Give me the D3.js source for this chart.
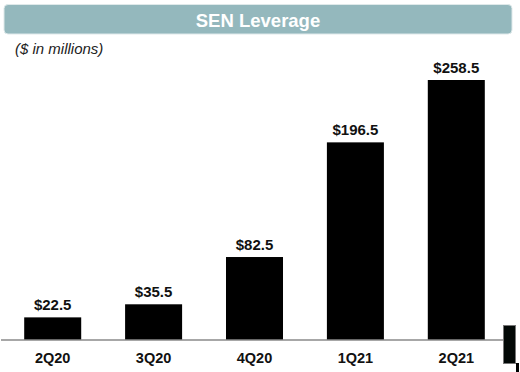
<!DOCTYPE html>
<html>
<head>
<meta charset="utf-8">
<script src="https://cdn.jsdelivr.net/npm/d3@7"></script>
<style>
  body { margin: 0; background: #fff; }
  svg { display: block; font-family: "Liberation Sans", Arial, sans-serif; }
</style>
</head>
<body>
<div id="chart"></div>
<script>
const quarters = ["2Q20", "3Q20", "4Q20", "1Q21", "2Q21"];
const leverage = [22.5, 35.5, 82.5, 196.5, 258.5];
const valueLabels = ["$22.5", "$35.5", "$82.5", "$196.5", "$258.5"];

const width = 520;
const height = 372;
const baseline = 340;

const svg = d3.select('#chart')
    .append('svg')
    .attr('width', width)
    .attr('height', height);

// header bar
svg.append('rect')
    .attr('x', 4)
    .attr('y', 4.5)
    .attr('width', 508)
    .attr('height', 29.5)
    .attr('rx', 4)
    .attr('fill', '#94b8bd')
    .attr('stroke', '#dfe9ea')
    .attr('stroke-width', 1);

svg.append('text')
    .attr('x', 258)
    .attr('y', 26.5)
    .attr('text-anchor', 'middle')
    .attr('fill', '#fff')
    .attr('font-weight', 'bold')
    .attr('font-size', 18.5)
    .text("SEN Leverage");

svg.append('text')
    .attr('x', 15)
    .attr('y', 54)
    .attr('fill', '#222')
    .attr('font-style', 'italic')
    .attr('font-size', 15)
    .text("($ in millions)");

// scales
const xScale = d3.scaleBand()
    .domain(quarters)
    .range([2, 507])
    .paddingInner(0.435)
    .paddingOuter(0.22);

const yScale = d3.scaleLinear()
    .domain([0, 258.5])
    .range([baseline, 80]);

// bars
svg.selectAll('rect.bar')
    .data(quarters)
    .enter()
    .append('rect')
    .attr('class', 'bar')
    .attr('x', d => xScale(d))
    .attr('y', (d, i) => yScale(leverage[i]))
    .attr('width', xScale.bandwidth())
    .attr('height', (d, i) => baseline - yScale(leverage[i]))
    .attr('fill', '#000');

svg.selectAll('text.val')
    .data(quarters)
    .enter()
    .append('text')
    .attr('class', 'val')
    .attr('x', d => xScale(d) + xScale.bandwidth() / 2)
    .attr('y', (d, i) => yScale(leverage[i]) - 7)
    .attr('text-anchor', 'middle')
    .attr('font-weight', 'bold')
    .attr('font-size', 15)
    .attr('fill', '#111')
    .text((d, i) => valueLabels[i]);

// axis
const xAxis = d3.axisBottom(xScale).tickSize(0).tickPadding(13);

const axisG = svg.append('g')
    .attr('transform', `translate(0, ${baseline})`)
    .call(xAxis);

axisG.select('.domain')
    .attr('d', 'M1,0H507')
    .attr('stroke', '#8a8a8a')
    .attr('stroke-width', 1.5);

axisG.selectAll('text')
    .attr('font-family', '"Liberation Sans", Arial, sans-serif')
    .attr('font-size', 14.5)
    .attr('font-weight', 'bold')
    .attr('fill', '#111');

// stray marker at right edge
svg.append('rect')
    .attr('x', 503.5)
    .attr('y', 325.5)
    .attr('width', 12)
    .attr('height', 38)
    .attr('fill', '#020806')
    .attr('stroke', '#777')
    .attr('stroke-width', 1);

svg.append('rect')
    .attr('x', 516)
    .attr('y', 363)
    .attr('width', 3)
    .attr('height', 9)
    .attr('fill', '#000');
</script>
</body>
</html>
